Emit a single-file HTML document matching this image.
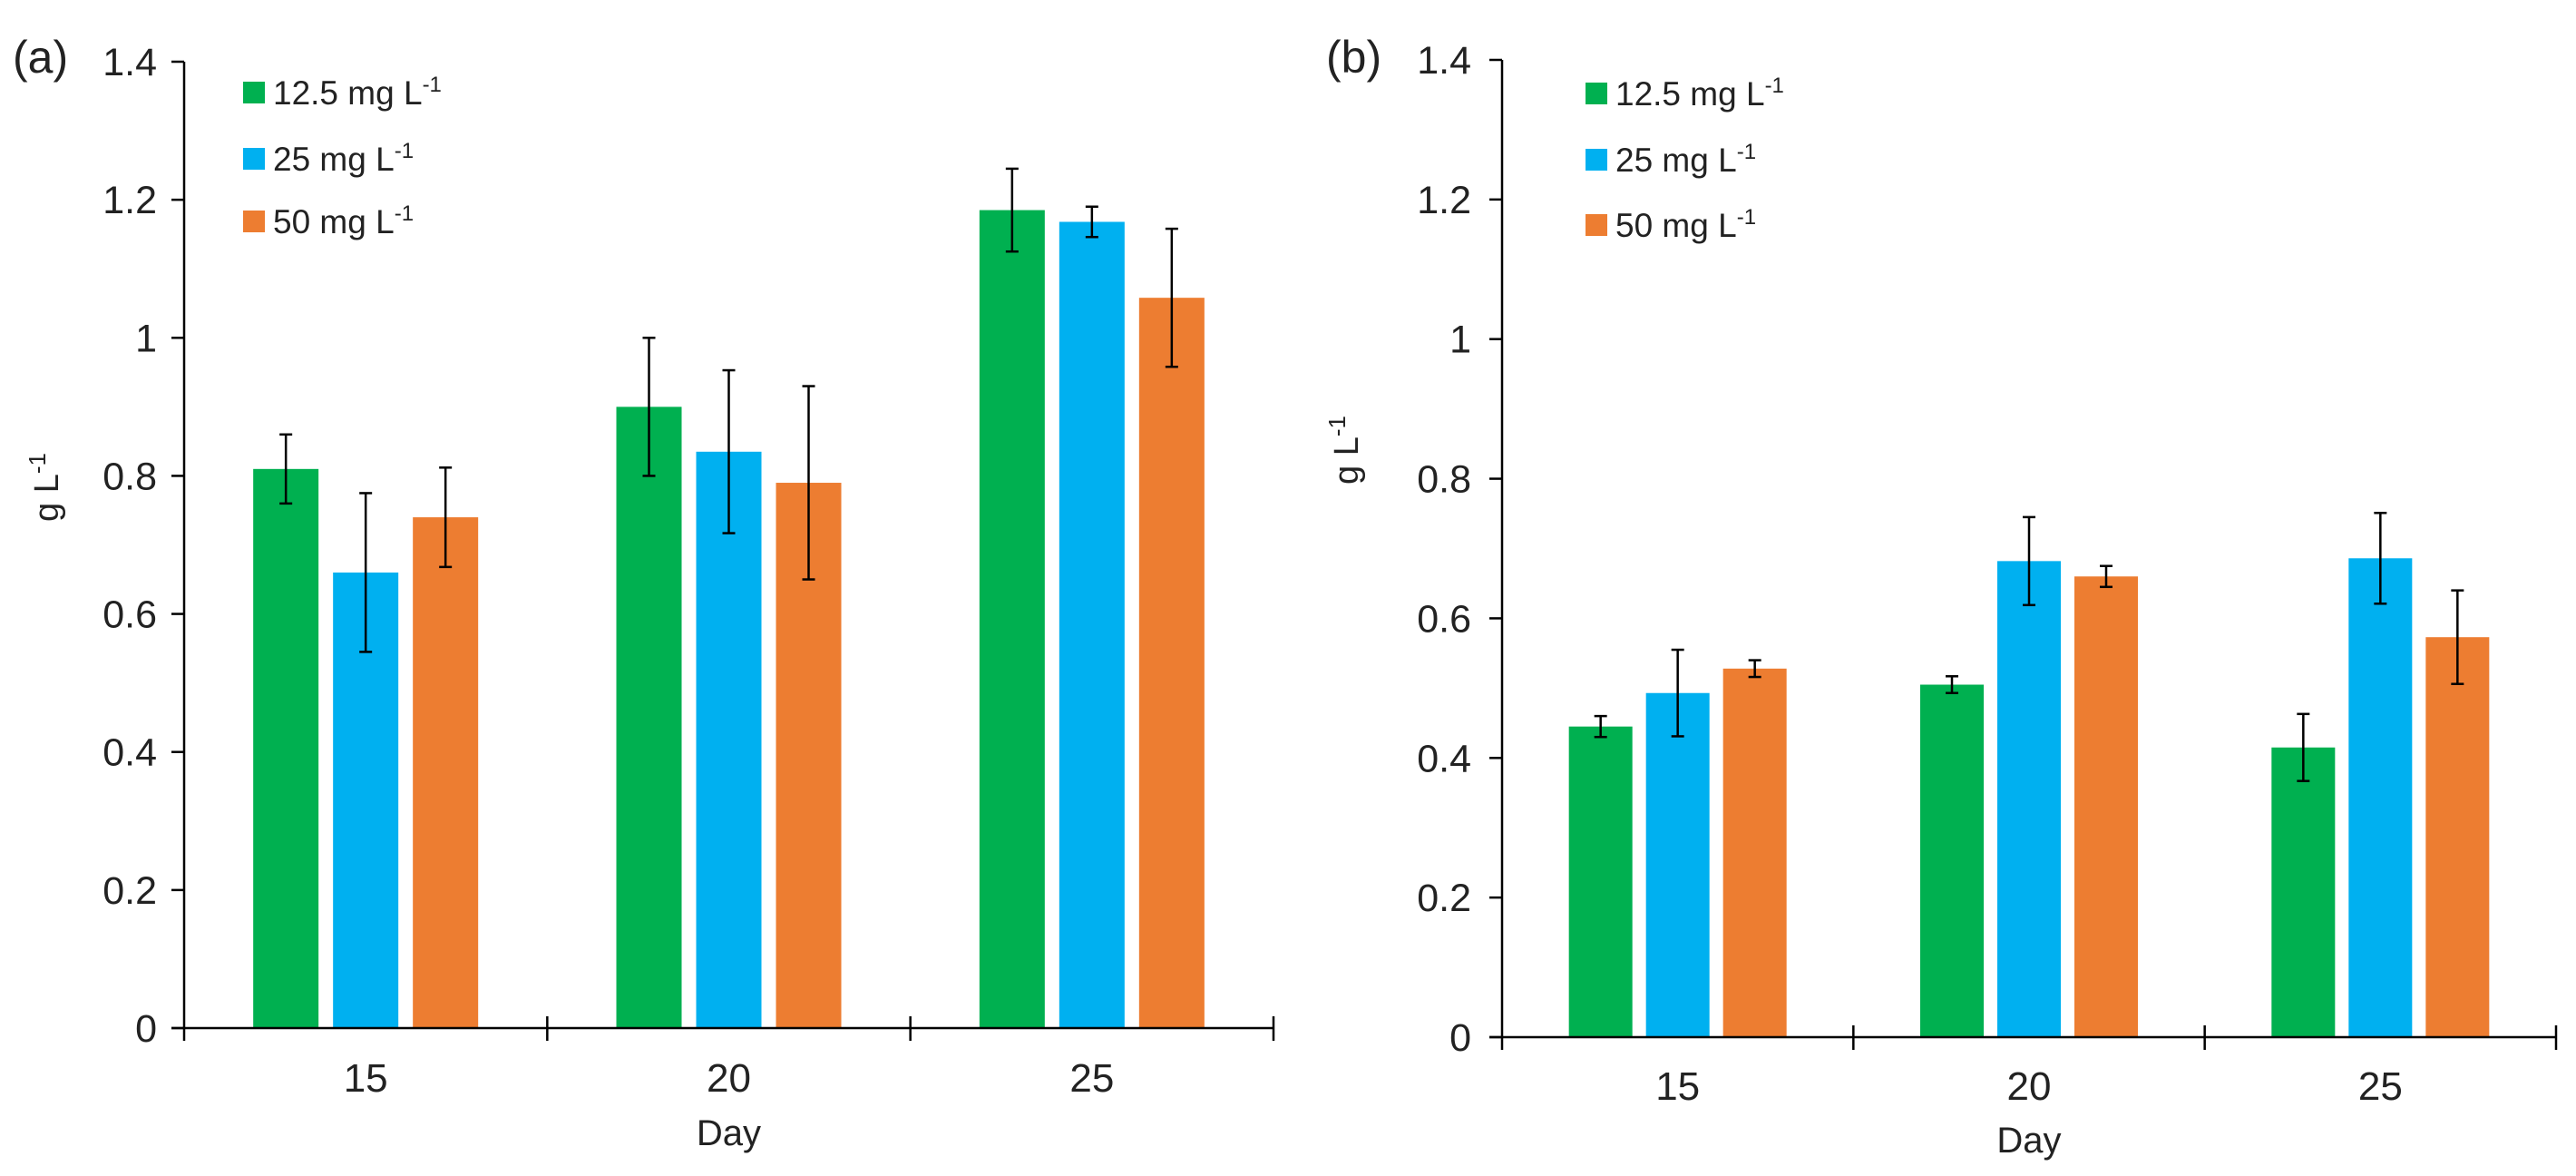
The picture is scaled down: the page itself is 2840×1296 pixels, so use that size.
<!DOCTYPE html>
<html><head><meta charset="utf-8"><style>
html,body{margin:0;padding:0;background:#fff;}
svg{display:block;font-family:"Liberation Sans",sans-serif;}
</style></head><body>
<svg id="chart" width="2840" height="1296" viewBox="0 0 2840 1296"></svg>
<script>
const categories = ["15", "20", "25"];
const seriesNames = ["12.5 mg L", "25 mg L", "50 mg L"];
const aValues = [[0.81, 0.90, 1.185], [0.66, 0.835, 1.168], [0.74, 0.79, 1.058]];
const aErrors = [[0.05, 0.10, 0.06], [0.115, 0.118, 0.022], [0.072, 0.14, 0.10]];
const bValues = [[0.445, 0.505, 0.415], [0.493, 0.682, 0.686], [0.528, 0.66, 0.573]];
const bErrors = [[0.015, 0.012, 0.048], [0.062, 0.063, 0.065], [0.012, 0.015, 0.067]];
const yTicks = [0, 0.2, 0.4, 0.6, 0.8, 1, 1.2, 1.4];
const yTickLabels = ["0", "0.2", "0.4", "0.6", "0.8", "1", "1.2", "1.4"];

const colors = ["#00b050", "#00b0f0", "#ed7d31"];
const NS = "http://www.w3.org/2000/svg";
const svg = document.getElementById("chart");
function mk(tag, attrs, parent, text) {
  const e = document.createElementNS(NS, tag);
  for (const k in attrs) e.setAttribute(k, attrs[k]);
  if (text !== undefined) e.textContent = text;
  (parent || svg).appendChild(e);
  return e;
}

function panel(p) {
  const g = mk("g", {});
  
  
  const yScale = v => p.y0 - (v / 1.4) * (p.y0 - p.y14);
  const catW = (p.xEnd - p.xAxis) / categories.length;
  const xCenter = i => p.xAxis + catW * (i + 0.5);
  const bw = p.bw, gap = p.gap;

  // bars + error bars
  for (let s = 0; s < 3; s++) {
    for (let c = 0; c < categories.length; c++) {
      const v = p.values[s][c], err = p.errors[s][c];
      const x = xCenter(c) + (s - 1) * (bw + gap) - bw / 2;
      const r = mk("rect", {x: x, y: yScale(v), width: bw, height: yScale(0) - yScale(v), fill: colors[s]}, g);
      
      
      const cx = x + bw / 2;
      const eg = mk("g", {stroke: "#000", "stroke-width": 2.5}, g);
      
      
      mk("line", {x1: cx, x2: cx, y1: yScale(v + err), y2: yScale(v - err)}, eg);
      mk("line", {x1: cx - 7, x2: cx + 7, y1: yScale(v + err), y2: yScale(v + err)}, eg);
      mk("line", {x1: cx - 7, x2: cx + 7, y1: yScale(v - err), y2: yScale(v - err)}, eg);
    }
  }
  // y axis
  const ya = mk("g", {}, g);
  
  
  mk("line", {x1: p.xAxis, x2: p.xAxis, y1: yScale(1.4), y2: yScale(0), stroke: "#000", "stroke-width": 2.5}, ya);
  yTicks.forEach((t, i) => {
    mk("line", {x1: p.xAxis - 14, x2: p.xAxis, y1: yScale(t), y2: yScale(t), stroke: "#000", "stroke-width": 2.5}, ya);
    const tl = mk("text", {x: p.xAxis - p.labGap, y: yScale(t) + 15, "text-anchor": "end", "font-size": 43, fill: "#222"}, ya, yTickLabels[i]);
    
    
  });
  // x axis
  const xa = mk("g", {}, g);
  
  
  mk("line", {x1: p.xAxis - 14, x2: p.xEnd, y1: yScale(0), y2: yScale(0), stroke: "#000", "stroke-width": 2.5}, xa);
  for (let i = 0; i <= categories.length; i++) {
    const tx = p.xAxis + catW * i;
    mk("line", {x1: tx, x2: tx, y1: yScale(0) - (i ? 13 : 0), y2: yScale(0) + 14, stroke: "#000", "stroke-width": 2.5}, xa);
  }
  categories.forEach((c, i) => {
    const tl = mk("text", {x: xCenter(i), y: p.catY, "text-anchor": "middle", "font-size": 44, fill: "#222"}, xa, c);
    
    
  });
  const xt = mk("text", {x: (p.xAxis + p.xEnd) / 2, y: p.dayY, "text-anchor": "middle", "font-size": 40, fill: "#222"}, g, "Day");
  
  
  // y title
  const yt = mk("text", {x: 0, y: 0, transform: "translate(" + p.ytX + "," + p.ytY + ") rotate(-90)", "text-anchor": "middle", "font-size": 38, fill: "#222"}, g);
  
  
  mk("tspan", {}, yt, "g L");
  mk("tspan", {dy: -14, "font-size": 26}, yt, "-1");
  // panel label
  const pl = mk("text", {x: p.plX, y: p.plY, "font-size": 50, fill: "#222"}, g, p.label);
  
  
  // legend
  const lg = mk("g", {}, g);
  
  
  seriesNames.forEach((n, i) => {
    const cy = p.legY[i];
    const e = mk("g", {}, lg);
    
    
    mk("rect", {x: p.legX, y: cy - 12, width: 24, height: 24, fill: colors[i]}, e);
    const t = mk("text", {x: p.legX + 33, y: cy + 13, "font-size": 37, fill: "#222"}, e);
    mk("tspan", {}, t, n);
    mk("tspan", {dy: -14, "font-size": 24}, t, "-1");
  });
}

panel({id: "a", label: "(a)", values: aValues, errors: aErrors, xAxis: 203, xEnd: 1404, y0: 1133, y14: 68,
  bw: 72, gap: 16, labGap: 30, catY: 1203, dayY: 1262, ytX: 64, ytY: 537, plX: 14, plY: 80,
  legX: 268, legY: [102, 175, 244]});
panel({id: "b", label: "(b)", values: bValues, errors: bErrors, xAxis: 1656, xEnd: 2818, y0: 1143, y14: 66,
  bw: 70, gap: 15, labGap: 34, catY: 1212, dayY: 1270, ytX: 1497, ytY: 496, plX: 1462, plY: 80,
  legX: 1748, legY: [103, 176, 248]});
</script>
</body></html>
